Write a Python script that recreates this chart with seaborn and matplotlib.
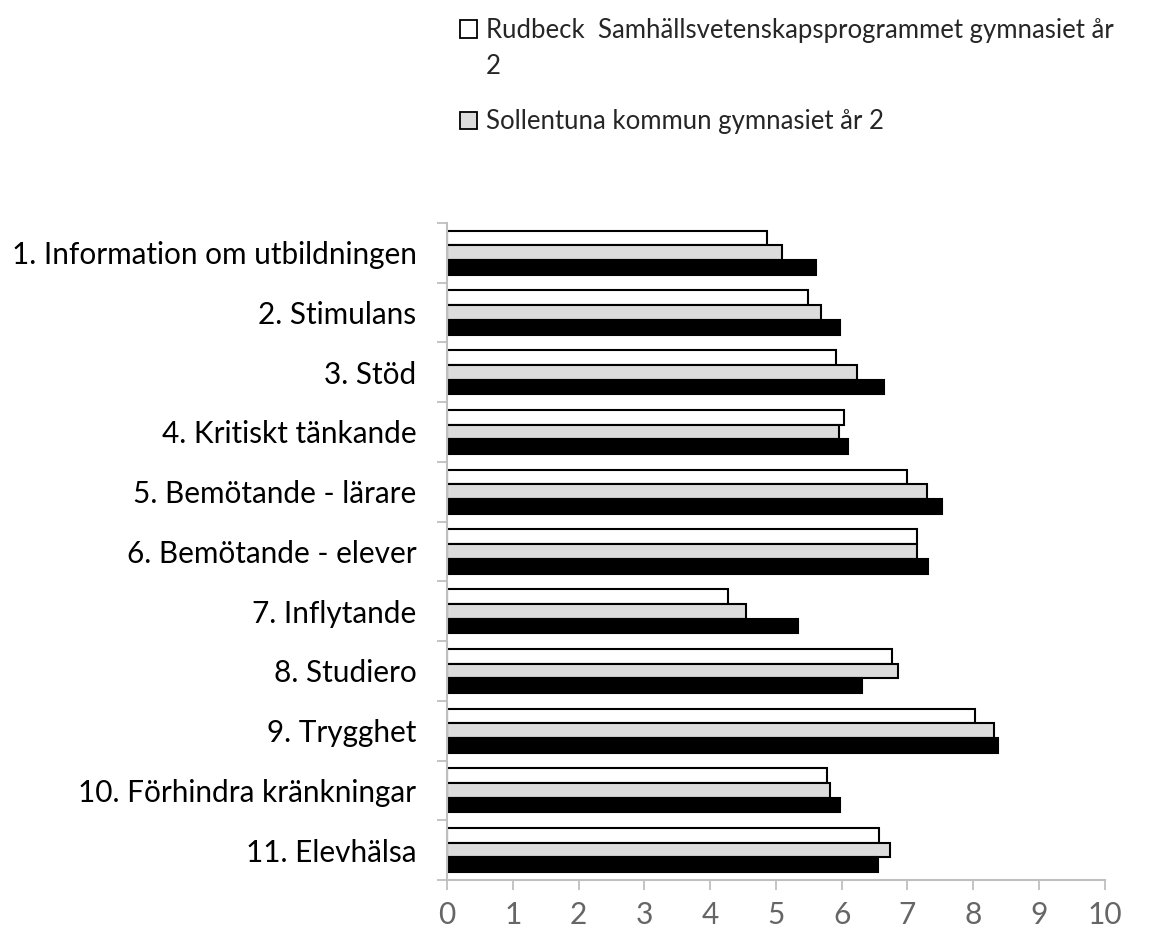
import pandas as pd
import numpy as np
import matplotlib
matplotlib.use("Agg")
import matplotlib.pyplot as plt
from matplotlib.patches import Patch
import seaborn as sns

kategorier = [
    "1. Information om utbildningen",
    "2. Stimulans",
    "3. Stöd",
    "4. Kritiskt tänkande",
    "5. Bemötande - lärare",
    "6. Bemötande - elever",
    "7. Inflytande",
    "8. Studiero",
    "9. Trygghet",
    "10. Förhindra kränkningar",
    "11. Elevhälsa",
]
serier = [
    "Rudbeck  Samhällsvetenskapsprogrammet gymnasiet år 2",
    "Sollentuna kommun gymnasiet år 2",
    "Serie 3",
]
rudbeck = [4.87, 5.49, 5.91, 6.03, 7.00, 7.15, 4.27, 6.76, 8.03, 5.78, 6.57]
sollentuna = [5.09, 5.69, 6.24, 5.96, 7.30, 7.14, 4.55, 6.85, 8.31, 5.82, 6.73]
serie3 = [5.61, 5.98, 6.65, 6.09, 7.52, 7.31, 5.34, 6.31, 8.37, 5.98, 6.55]
x_ticks = list(range(0, 11))

farger = ["#ffffff", "#dcdcdc", "#000000"]

rows = []
for namn, varden in zip(serier, [rudbeck, sollentuna, serie3]):
    for kat, v in zip(kategorier, varden):
        rows.append({"kategori": kat, "serie": namn, "värde": v})
df = pd.DataFrame(rows)

sns.set_style("white")
plt.rcParams["font.family"] = ["Lato", "DejaVu Sans"]

fig = plt.figure(figsize=(11.52, 9.3), dpi=100)
ax = fig.add_axes([0.388, 0.0538, 0.571, 0.7065])

sns.barplot(
    data=df, y="kategori", x="värde", hue="serie",
    order=kategorier, hue_order=serier, palette=farger,
    edgecolor="black", linewidth=1.5, width=0.74,
    orient="h", legend=False, ax=ax,
)

ax.set_xlim(0, 10)
ax.set_ylim(len(kategorier) - 0.5, -0.5)
ax.set_xticks(x_ticks)
ax.set_xticklabels([str(t) for t in x_ticks])
ax.set_xlabel("")
ax.set_ylabel("")

ax.set_yticks(np.arange(len(kategorier)))
ax.set_yticklabels(kategorier)
ax.set_yticks(np.arange(len(kategorier) + 1) - 0.5, minor=True)
ax.tick_params(axis="y", which="major", length=0, pad=22, labelsize=21.4, labelcolor="#000000")
ax.tick_params(axis="y", which="minor", length=7, width=1.3, color="#bfbfbf", direction="out", left=True)
ax.tick_params(axis="x", length=7, width=1.3, color="#bfbfbf", direction="out", bottom=True,
               pad=8, labelsize=21.5, labelcolor="#666666")

for s in ["top", "right"]:
    ax.spines[s].set_visible(False)
for s in ["left", "bottom"]:
    ax.spines[s].set_color("#bfbfbf")
    ax.spines[s].set_linewidth(1.5)

handles = [Patch(facecolor=farger[0], edgecolor="black", linewidth=1.3),
           Patch(facecolor=farger[1], edgecolor="black", linewidth=1.3)]
labels = ["Rudbeck  Samhällsvetenskapsprogrammet gymnasiet år",
          "Sollentuna kommun gymnasiet år 2"]
fig.legend(handles, labels, loc="upper left", bbox_to_anchor=(0.3924, 0.989),
           frameon=False, fontsize=18.5, handlelength=0.66, handleheight=0.66,
           handletextpad=0.35, labelspacing=2.58, borderpad=0.1, borderaxespad=0.2,
           labelcolor="#262626")
# radbrytningen i första legendtexten
fig.text(486 / 1152, 1 - 67 / 930, "2", fontsize=18.5, color="#262626", va="center", ha="left")

fig.savefig("out.png", dpi=100)
